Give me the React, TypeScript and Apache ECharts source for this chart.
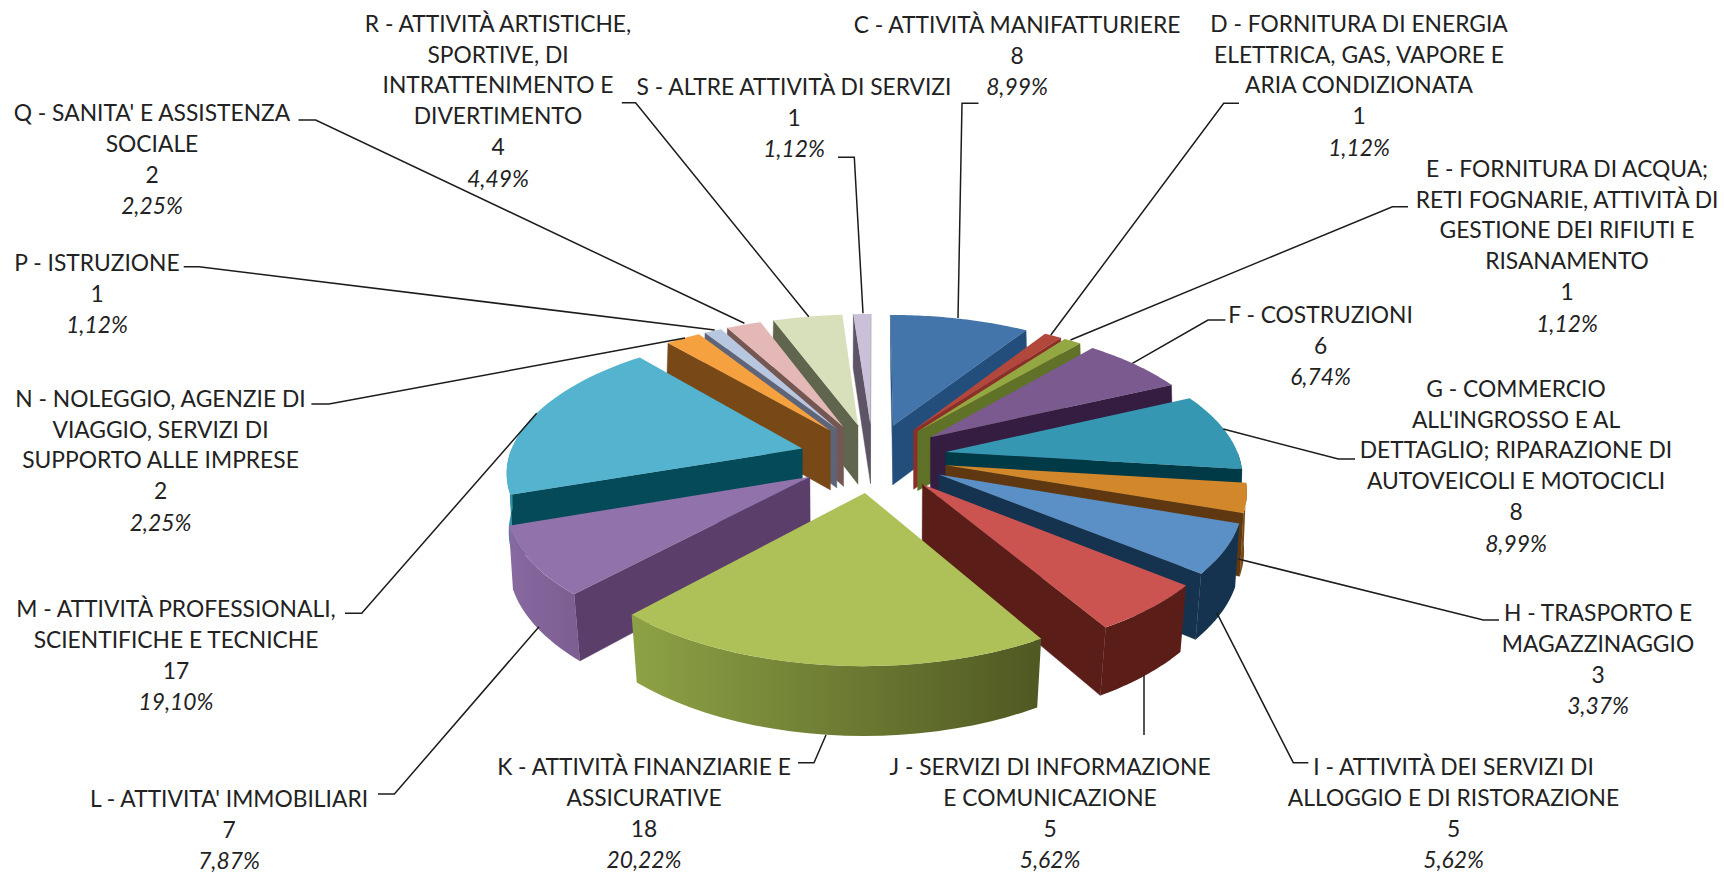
import React, { useEffect, useRef } from "react";
import * as echarts from "echarts";

const NAME_LINES: string[][] = [
  ["C - ATTIVITÀ MANIFATTURIERE"],
  ["D - FORNITURA DI ENERGIA", "ELETTRICA, GAS, VAPORE E", "ARIA CONDIZIONATA"],
  ["E - FORNITURA DI ACQUA;", "RETI FOGNARIE, ATTIVITÀ DI", "GESTIONE DEI RIFIUTI E", "RISANAMENTO"],
  ["F - COSTRUZIONI"],
  ["G - COMMERCIO", "ALL'INGROSSO E AL", "DETTAGLIO; RIPARAZIONE DI", "AUTOVEICOLI E MOTOCICLI"],
  ["H - TRASPORTO E", "MAGAZZINAGGIO"],
  ["I - ATTIVITÀ DEI SERVIZI DI", "ALLOGGIO E DI RISTORAZIONE"],
  ["J - SERVIZI DI INFORMAZIONE", "E COMUNICAZIONE"],
  ["K - ATTIVITÀ FINANZIARIE E", "ASSICURATIVE"],
  ["L - ATTIVITA' IMMOBILIARI"],
  ["M - ATTIVITÀ PROFESSIONALI,", "SCIENTIFICHE E TECNICHE"],
  ["N - NOLEGGIO, AGENZIE DI", "VIAGGIO, SERVIZI DI", "SUPPORTO ALLE IMPRESE"],
  ["P - ISTRUZIONE"],
  ["Q - SANITA' E ASSISTENZA", "SOCIALE"],
  ["R - ATTIVITÀ ARTISTICHE,", "SPORTIVE, DI", "INTRATTENIMENTO E", "DIVERTIMENTO"],
  ["S - ALTRE ATTIVITÀ DI SERVIZI"],
];
const VALUES = [8, 1, 1, 6, 8, 3, 5, 5, 18, 7, 17, 2, 1, 2, 4, 1];
const PERCENTS = ["8,99%", "1,12%", "1,12%", "6,74%", "8,99%", "3,37%", "5,62%", "5,62%", "20,22%", "7,87%", "19,10%", "2,25%", "1,12%", "2,25%", "4,49%", "1,12%"];

const TOP_COLORS = ["#4375AB", "#B2473C", "#93A843", "#7A5A8F", "#3597B1", "#D2872B", "#5A90C6", "#CB5450", "#AEC158", "#9272AA", "#54B3CF", "#F6A13F", "#B8C7E0", "#E4B8B6", "#D8E0BB", "#CAC1D9"];
const WALL_COLORS = ["#234E7C", "#8C3027", "#5F7228", "#341D40", "#003A46", "#5F3812", "#15334F", "#5B1D17", "#4F5822", "#5B3F6A", "#044A58", "#784816", "#5E6578", "#745752", "#60654D", "#5D5566"];
// left → right colour of each slice's curved outer wall
const RIM_COLORS: string[][] = [
  ["#234E7C", "#234E7C"], ["#8C3027", "#8C3027"], ["#5F7228", "#5F7228"], ["#341D40", "#341D40"],
  ["#003A46", "#003A46"], ["#784A17", "#784A17"], ["#15334F", "#15334F"], ["#5B1D17", "#5B1D17"],
  ["#8DA245", "#4F5822"], ["#8869A0", "#7C5E92"], ["#2D93AE", "#2D93AE"], ["#784816", "#784816"],
  ["#5E6578", "#5E6578"], ["#745752", "#745752"], ["#60654D", "#60654D"], ["#5D5566", "#5D5566"],
];

// label anchor (centre x, centre y of first line)
const LABEL_POS: number[][] = [
  [1017, 24], [1359, 23], [1567, 168], [1320.5, 314], [1516, 388], [1598, 612], [1453.5, 766], [1050, 766],
  [644, 766], [229, 798], [176, 608], [160.5, 398], [97, 262], [152, 112], [498, 23], [794, 86],
];
const LEADERS: number[][][] = [
  [[958, 318], [962, 103.3], [978.5, 103.3]],
  [[1050.8, 335], [1223.7, 103.3], [1239, 103.3]],
  [[1070.5, 340], [1392.4, 206.7], [1408, 206.7]],
  [[1132.4, 363.3], [1208, 320], [1225.4, 320]],
  [[1223.3, 429], [1338.3, 459], [1355, 459]],
  [[1238.3, 559], [1483.3, 620], [1499, 620]],
  [[1216.7, 612.7], [1293.3, 762.7], [1308.3, 762.7]],
  [[1144, 675], [1144, 735]],
  [[826, 735], [814, 762.7], [798, 762.7]],
  [[539, 626.7], [394.4, 794], [378, 794]],
  [[536.7, 413.3], [361.7, 613.3], [345, 613.3]],
  [[685, 338], [329, 404], [311.4, 404]],
  [[714.7, 330], [199, 266.7], [183.7, 266.7]],
  [[744.4, 323.3], [315.7, 120], [298.5, 120]],
  [[808.8, 316.7], [635.6, 102.7], [621.8, 102.7]],
  [[863, 313.3], [854.3, 157.3], [838, 157.3]],
];

// 3D projection of the tilted, exploded pie
const CX = 873, CY = 457.5, RADIUS = 293.5, EXPLODE = 74, TILT = 0.463, PERSP = 0.000505, HEIGHT = 60.5;
const CAM_V = 1 / PERSP;
const rad = (d: number) => (d * Math.PI) / 180;
type P3 = { u: number; v: number };
const top = (p: P3): number[] => {
  const s = 1 / (1 - p.v * PERSP);
  return [CX + p.u * s, CY + p.v * TILT * s];
};
const bottom = (p: P3): number[] => {
  const s = 1 / (1 - p.v * PERSP);
  const k = 1 - 0.1 * (s - 0.96);
  return [CX + p.u * s * k, CY + p.v * TILT * s + HEIGHT * Math.pow(s, 0.7)];
};

const TOTAL = VALUES.reduce((a, b) => a + b, 0);
type Slice = { i: number; a0: number; a1: number; apex: P3 };
const SLICES: Slice[] = (() => {
  let c = 0;
  return VALUES.map((v, i) => {
    const a0 = (c / TOTAL) * 360;
    c += v;
    const a1 = (c / TOTAL) * 360;
    const m = rad((a0 + a1) / 2);
    return { i, a0, a1, apex: { u: EXPLODE * Math.sin(m), v: -EXPLODE * Math.cos(m) } };
  });
})();
const rim = (s: Slice, a: number): P3 => ({
  u: s.apex.u + RADIUS * Math.sin(rad(a)),
  v: s.apex.v - RADIUS * Math.cos(rad(a)),
});
const PAINT_ORDER = [...SLICES].sort((x, y) => x.apex.v - y.apex.v);

function renderSlice(_params: any, api: any) {
  const s = PAINT_ORDER[api.value(1)];
  const i = s.i;
  const children: any[] = [];
  const toCam = { u: -s.apex.u, v: CAM_V - s.apex.v };
  const wall = (a: number) => {
    const o = rim(s, a);
    children.push({
      type: "polygon",
      shape: { points: [top(s.apex), top(o), bottom(o), bottom(s.apex)] },
      style: { fill: WALL_COLORS[i], stroke: WALL_COLORS[i], lineWidth: 0.4 },
    });
  };
  // radial faces that look at the camera
  const n0 = { u: -Math.cos(rad(s.a0)), v: -Math.sin(rad(s.a0)) };
  const n1 = { u: Math.cos(rad(s.a1)), v: Math.sin(rad(s.a1)) };
  if (n0.u * toCam.u + n0.v * toCam.v > 0) wall(s.a0);
  if (n1.u * toCam.u + n1.v * toCam.v > 0) wall(s.a1);
  // curved outer face
  const lo = Math.max(s.a0, 90);
  const hi = Math.min(s.a1, 270);
  if (hi > lo) {
    const up: number[][] = [];
    const dn: number[][] = [];
    for (let k = 0; k <= 24; k++) {
      const o = rim(s, lo + ((hi - lo) * k) / 24);
      up.push(top(o));
      dn.unshift(bottom(o));
    }
    const [cl, cr] = RIM_COLORS[i];
    children.push({
      type: "polygon",
      shape: { points: [...up, ...dn] },
      style: {
        fill: new echarts.graphic.LinearGradient(0, 0, 1, 0, [
          { offset: 0, color: cl },
          { offset: 1, color: cr },
        ]),
      },
    });
  }
  // top face
  const face: number[][] = [top(s.apex)];
  for (let k = 0; k <= 40; k++) face.push(top(rim(s, s.a0 + ((s.a1 - s.a0) * k) / 40)));
  children.push({ type: "polygon", shape: { points: face }, style: { fill: TOP_COLORS[i] } });
  return { type: "group", children };
}

const FONT = "Lato";
const FONT_SIZE = 22.8;
const TEXT_COLOR = "#222222";

function labelText(i: number) {
  const lines = NAME_LINES[i].map((l) => `{n|${l}}`);
  lines.push(`{v|${VALUES[i]}}`);
  lines.push(`{p|${PERCENTS[i]}}`);
  return lines.join("\n");
}

export default function App() {
  const ref = useRef<HTMLDivElement>(null);
  useEffect(() => {
    const chart = echarts.init(ref.current!, undefined, { renderer: "svg" });
    const base = { fontFamily: FONT, fontSize: FONT_SIZE, fill: TEXT_COLOR, color: TEXT_COLOR };
    chart.setOption({
      animation: false,
      backgroundColor: "#ffffff",
      series: [
        {
          type: "custom",
          coordinateSystem: "none",
          silent: true,
          clip: false,
          renderItem: renderSlice,
          data: PAINT_ORDER.map((s, k) => [VALUES[s.i], k]),
        },
      ],
      graphic: [
        ...LEADERS.map((pts) => ({
          type: "polyline",
          z: 20,
          silent: true,
          shape: { points: pts },
          style: { stroke: "#1c1c1c", lineWidth: 1.5, fill: "none" },
        })),
        ...LABEL_POS.map((p, i) => ({
          type: "text",
          z: 30,
          silent: true,
          x: p[0],
          y: p[1] - 15.5,
          style: {
            text: labelText(i),
            align: "center",
            verticalAlign: "top",
            ...base,
            rich: {
              n: { ...base, lineHeight: 30.7, align: "center" },
              v: { ...base, lineHeight: 31.5, align: "center" },
              p: { ...base, lineHeight: 31.5, align: "center", fontStyle: "italic" },
            },
          },
        })),
      ],
    });
    return () => chart.dispose();
  }, []);
  return <div ref={ref} style={{ position: "absolute", left: 0, top: 0, width: 1724, height: 873 }} />;
}
